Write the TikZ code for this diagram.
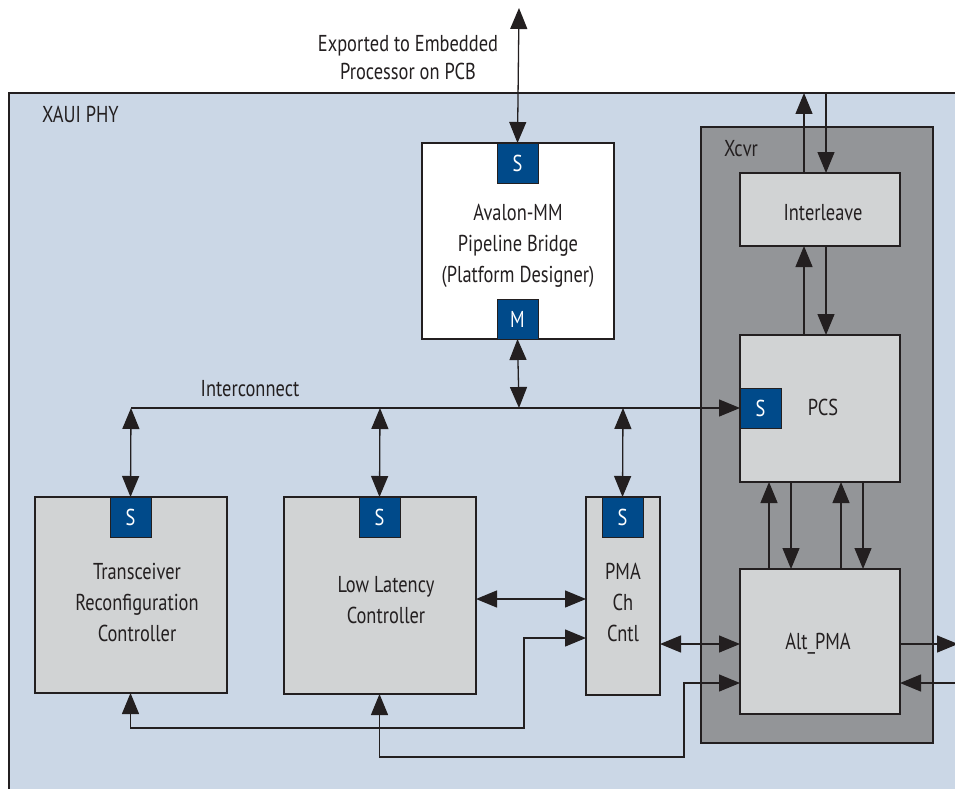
\documentclass[tikz,border=0pt]{standalone}
\usepackage{fontspec}
\setmainfont[FakeStretch=0.8]{PT Sans}
\usetikzlibrary{arrows.meta}
\definecolor{phyblue}{HTML}{CBD7E6}
\definecolor{xcvrgray}{HTML}{939598}
\definecolor{boxgray}{HTML}{D1D3D4}
\definecolor{sblue}{HTML}{004A8A}
\definecolor{ink}{HTML}{231F20}
\begin{document}
\begin{tikzpicture}[x=1pt,y=-1pt,
  font=\fontsize{23}{31}\selectfont,
  every node/.style={inner sep=0pt, outer sep=0pt, text=ink},
  blk/.style={draw=ink, line width=1.3pt, fill=boxgray, anchor=north west},
  port/.style={draw=ink, line width=1pt, fill=sblue, text=white, minimum width=41pt, minimum height=40pt, anchor=north west},
  lbl/.style={anchor=base, align=center},
  conn/.style={draw=ink, line width=1.3pt, -{Triangle[length=21pt,width=17pt]}},
  biconn/.style={draw=ink, line width=1.3pt, {Triangle[length=21pt,width=17pt]}-{Triangle[length=21pt,width=17pt]}}]
\useasboundingbox (0,0) rectangle (955,789);
\fill[white] (0,0) rectangle (955,789);
% outer XAUI PHY region
\draw[draw=ink, line width=1.3pt, fill=phyblue] (9,93) rectangle (990,830);
\node[anchor=base west] (phylbl) at (42,123) {XAUI PHY};
% Xcvr region
\node[blk, fill=xcvrgray, minimum width=232pt, minimum height=616pt] (xcvr) at (701,127) {};
\node[anchor=base west] (xcvrlbl) at (724,156) {Xcvr};
% blocks
\node[blk, fill=white, minimum width=192pt, minimum height=196pt] (av) at (422,143) {};
\node[port] (avS) at (497,143) {S};
\node[port] (avM) at (497,299) {M};
\node[lbl] (avlbl) at (518,282) {Avalon-MM\\Pipeline Bridge\\(Platform Designer)};

\node[blk, minimum width=192pt, minimum height=196pt] (tr) at (35,497) {};
\node[port] (trS) at (110,497) {S};
\node[lbl] (trlbl) at (137,641) {Transceiver\\Reconfiguration\\Controller};

\node[blk, minimum width=192pt, minimum height=197pt] (ll) at (284,497) {};
\node[port] (llS) at (359,497) {S};
\node[lbl] (lllbl) at (386,623) {Low Latency\\Controller};

\node[blk, minimum width=74pt, minimum height=198pt] (pma) at (586,497) {};
\node[port] (pmaS) at (602,497) {S};
\node[lbl] (pmalbl) at (623,641) {PMA\\Ch\\Cntl};

\node[blk, minimum width=160pt, minimum height=73pt] (il) at (740,173) {};
\node[lbl] (illbl) at (823,220) {Interleave};

\node[blk, minimum width=160pt, minimum height=147pt] (pcs) at (740,335) {};
\node[port] (pcsS) at (740,388) {S};
\node[lbl] (pcslbl) at (823,415) {PCS};

\node[blk, minimum width=160pt, minimum height=145pt] (alt) at (740,569) {};
\node[lbl] (altlbl) at (818,649) {Alt\_PMA};

% external label
\node[lbl, font=\fontsize{23}{28}\selectfont] (extlbl) at (408,80) {Exported to Embedded\\Processor on PCB};

% coordinates
\coordinate (ext) at (519,8);
\coordinate (bus) at (519,408);
\coordinate (busL) at (131,408);
\coordinate (busLL) at (380,408);
\coordinate (busP) at (623,408);
\coordinate (ilUp) at (804,93);
\coordinate (ilDn) at (826,93);
\coordinate (outR) at (958,644);
\coordinate (inR) at (960,683);

% connectors
\draw[biconn] (ext) -- (avS.north);
\draw[biconn] (avM.south) -- (bus);
\node[anchor=base] (iclbl) at (250,396) {Interconnect};
\draw[conn] (busL) -- (pcsS.west);
\draw[biconn] (busL) -- (trS.north);
\draw[biconn] (busLL) -- (llS.north);
\draw[biconn] (busP) -- (pmaS.north);

\draw[biconn] (ll.east |- 0,599) -- (pma.west |- 0,599);
\draw[biconn] (pma.east |- 0,644) -- (alt.west |- 0,644);
\draw[biconn] (trS.center |- tr.south) |- (524,728) |- (pma.west |- 0,638);
\draw[biconn] (llS.center |- ll.south) |- (684,757) |- (alt.west |- 0,683);
\draw[conn] (alt.east |- 0,644) -- (outR);
\draw[conn] (inR) -- (alt.east |- 0,683);

\draw[conn] (il.north -| ilUp) -- (ilUp);
\draw[conn] (ilDn) -- (il.north -| ilDn);
\draw[conn] (pcs.north -| ilUp) -- (il.south -| ilUp);
\draw[conn] (il.south -| ilDn) -- (pcs.north -| ilDn);
\draw[conn] (alt.north -| 769,0) -- (pcs.south -| 769,0);
\draw[conn] (pcs.south -| 791,0) -- (alt.north -| 791,0);
\draw[conn] (alt.north -| 841,0) -- (pcs.south -| 841,0);
\draw[conn] (pcs.south -| 863,0) -- (alt.north -| 863,0);
\end{tikzpicture}
\end{document}
